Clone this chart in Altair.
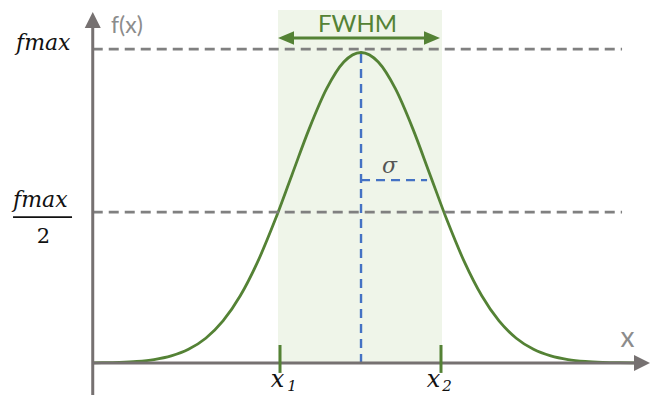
import altair as alt
import pandas as pd

# ---- data (x in units of sigma, f in units of fmax) ----
curve_x = [-3.89, -3.75, -3.5, -3.25, -3.0, -2.75, -2.5, -2.25, -2.0, -1.75, -1.5, -1.25,
           -1.0, -0.75, -0.5, -0.25, 0.0, 0.25, 0.5, 0.75, 1.0, 1.25, 1.5, 1.75,
           2.0, 2.25, 2.5, 2.75, 3.0, 3.25, 3.5, 3.75, 3.97]
curve_f = [0.0005, 0.0009, 0.0022, 0.0051, 0.0111, 0.0228, 0.0439, 0.0796, 0.1353, 0.2163, 0.3247, 0.4578,
           0.6065, 0.7548, 0.8825, 0.9692, 1.0, 0.9692, 0.8825, 0.7548, 0.6065, 0.4578, 0.3247, 0.2163,
           0.1353, 0.0796, 0.0439, 0.0228, 0.0111, 0.0051, 0.0022, 0.0009, 0.0004]
MU = 0.0
SIGMA = 1.0
SIGMA_LEVEL = 0.589
FMAX_LINE = 1.011
HALF_LINE = 0.486
X1 = -1.174
X2 = 1.159
BAND = [-1.203, 1.174]

# ---- styling / layout ----
XDOM = [-5.116, 4.188]
YDOM = [-0.1031, 1.1433]
GREEN = "#548235"
BAND_COL = "#eff5e9"
AXIS_COL = "#767171"
DASH_COL = "#808080"
BLUE = "#4472c4"
SANS = "Lato"
SERIF = "DejaVu Serif"

xs = alt.Scale(domain=XDOM, nice=False, zero=False)
ys = alt.Scale(domain=YDOM, nice=False, zero=False)


def X(f="x"):
    return alt.X(f"{f}:Q", scale=xs, axis=None)


def Y(f="y"):
    return alt.Y(f"{f}:Q", scale=ys, axis=None)


def hrule(x0, x1, y, color, width, dash=None):
    kw = dict(color=color, strokeWidth=width)
    if dash:
        kw["strokeDash"] = dash
    return alt.Chart(pd.DataFrame({"x": [x0], "x2": [x1], "y": [y]})).mark_rule(**kw).encode(
        x=X(), x2="x2:Q", y=Y())


def vrule(x, y0, y1, color, width, dash=None):
    kw = dict(color=color, strokeWidth=width)
    if dash:
        kw["strokeDash"] = dash
    return alt.Chart(pd.DataFrame({"x": [x], "y": [y0], "y2": [y1]})).mark_rule(**kw).encode(
        x=X(), y=Y(), y2="y2:Q")


def arrow(x, y, shape, color, size):
    return alt.Chart(pd.DataFrame({"x": [x], "y": [y]})).mark_point(
        shape=shape, filled=True, size=size, color=color, opacity=1, strokeWidth=0).encode(x=X(), y=Y())


def label(x, y, t, size, color, font, align="left", italic=False):
    kw = dict(align=align, baseline="alphabetic", fontSize=size, color=color, font=font)
    if italic:
        kw["fontStyle"] = "italic"
    return alt.Chart(pd.DataFrame({"x": [x], "y": [y], "t": [t]})).mark_text(**kw).encode(
        x=X(), y=Y(), text="t:N")


band = alt.Chart(pd.DataFrame({"x": [BAND[0]], "x2": [BAND[1]], "y": [0.0], "y2": [1.137]})).mark_rect(
    color=BAND_COL).encode(x=X(), x2="x2:Q", y=Y(), y2="y2:Q")

curve = alt.Chart(pd.DataFrame({"x": curve_x, "y": curve_f})).mark_line(
    color=GREEN, strokeWidth=2.8, interpolate="monotone").encode(x=X(), y=Y(), order="x:Q")

ARROW_Y = 1.0467

layers = [
    band,
    curve,
    hrule(-3.888, 3.783, FMAX_LINE, DASH_COL, 2.6, [10, 6]),
    hrule(-3.888, 3.783, HALF_LINE, DASH_COL, 2.6, [10, 6]),
    vrule(MU, 0.0, 1.0, BLUE, 2.4, [9, 6]),
    hrule(MU, 0.957, SIGMA_LEVEL, BLUE, 2.4, [9, 6]),
    # axes
    vrule(-3.888, YDOM[0], 1.085, AXIS_COL, 3),
    hrule(-3.888, 4.0, 0.0, AXIS_COL, 3),
    arrow(-3.888, 1.1047, "M0,-1L1,1L-1,1Z", AXIS_COL, 256),
    arrow(4.072, 0.0, "M1,0L-1,-1L-1,1Z", AXIS_COL, 256),
    # x1 / x2 ticks
    vrule(X1, -0.032, 0.058, GREEN, 3),
    vrule(X2, -0.032, 0.058, GREEN, 3),
    # FWHM double arrow
    hrule(-1.05, 0.99, ARROW_Y, GREEN, 3),
    arrow(-1.087, ARROW_Y, "M-1,0L1,-0.85L1,0.85Z", GREEN, 256),
    arrow(1.029, ARROW_Y, "M1,0L-1,-0.85L-1,0.85Z", GREEN, 256),
    label(-0.05, 1.0660, "FWHM", 24, GREEN, SANS, align="center"),
    # axis labels
    label(-3.623, 1.062, "f(x)", 23, "#8c8c8c", SANS),
    label(3.862, 0.0515, "x", 28, "#8c8c8c", SANS, align="center"),
    # math labels
    label(-5.0, 1.008, "fmax", 22, "#111111", SERIF, italic=True),
    label(-5.043, 0.5024, "fmax", 22, "#111111", SERIF, italic=True),
    hrule(-5.043, -4.188, 0.470, "#111111", 1.8),
    label(-4.601, 0.3865, "2", 21, "#111111", SERIF, align="center"),
    label(-1.210, -0.0773, "x", 24, "#111111", SERIF, align="center", italic=True),
    label(-1.068, -0.0902, "1", 15, "#111111", SERIF, italic=True),
    label(1.051, -0.0773, "x", 24, "#111111", SERIF, align="center", italic=True),
    label(1.178, -0.0902, "2", 15, "#111111", SERIF, italic=True),
    label(0.413, 0.612, "σ", 22, "#555555", SERIF, align="center", italic=True),
]

chart = alt.layer(*layers).properties(
    width=642, height=387,
    autosize=alt.AutoSizeParams(type="none"),
    padding=0,
).configure_view(stroke=None)

chart.save("out.html", embed_options={"renderer": "svg", "actions": False})
